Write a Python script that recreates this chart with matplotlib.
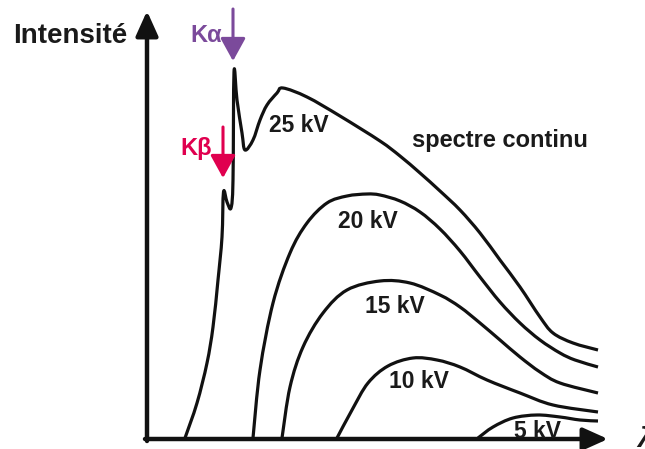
import matplotlib
matplotlib.use("Agg")
import matplotlib.pyplot as plt
import numpy as np
from matplotlib.path import Path
from matplotlib.patches import PathPatch

plt.rcParams['font.family'] = ['Liberation Sans', 'DejaVu Sans']

# Curves (x = wavelength position, y = image-down intensity coordinate)
kv25_x = [185, 197, 207, 213, 218, 222, 223.5, 227, 231, 233, 234, 237, 242, 245, 253, 260, 267, 277, 283, 307, 340, 380, 400, 420, 440, 460, 480, 500, 520, 540, 553, 573, 598]
kv25_y = [438, 403, 363, 327, 280, 237, 192, 202, 208, 180, 72, 100, 133, 150, 140, 120, 105, 93, 88, 97, 116, 141, 156, 173, 191, 210, 233, 260, 287, 317, 333, 343, 350]

kv20_x = [253, 260, 273, 290, 307, 327, 347, 367, 380, 400, 420, 440, 460, 480, 500, 520, 540, 560, 575, 598]
kv20_y = [438, 370, 303, 253, 223, 203, 196, 194, 195, 201, 212, 229, 251, 277, 302, 323, 340, 353, 360, 367]

kv15_x = [282, 290, 303, 323, 347, 380, 410, 440, 460, 480, 500, 520, 540, 560, 598]
kv15_y = [438, 387, 347, 313, 290, 281, 283, 295, 307, 323, 340, 357, 372, 383, 393]

kv10_x = [337, 352, 368, 388, 413, 437, 460, 487, 520, 553, 598]
kv10_y = [438, 410, 383, 366, 358, 360, 367, 380, 393, 405, 412]

kv5_x = [478, 493, 513, 537, 560, 580, 598]
kv5_y = [438, 427, 418, 415, 417, 420, 421]

curve_labels = ["25 kV", "20 kV", "15 kV", "10 kV", "5 kV"]


def smooth_path(xs, ys):
    """Bezier path through the given points (Catmull-Rom tangents)."""
    p = np.column_stack([xs, ys]).astype(float)
    n = len(p)
    verts = [p[0]]
    codes = [Path.MOVETO]
    for i in range(n - 1):
        p0 = p[i - 1] if i > 0 else p[i]
        p1 = p[i]
        p2 = p[i + 1]
        p3 = p[i + 2] if i + 2 < n else p[i + 1]
        c1 = p1 + (p2 - p0) / 6.0
        c2 = p2 - (p3 - p1) / 6.0
        verts += [c1, c2, p2]
        codes += [Path.CURVE4] * 3
    return Path(verts, codes)


fig = plt.figure(figsize=(6.45, 4.49), dpi=100)
ax = fig.add_axes([0, 0, 1, 1])
ax.set_xlim(0, 645)
ax.set_ylim(449, 0)
ax.axis('off')

lw = 2.3
for xs, ys in [(kv25_x, kv25_y), (kv20_x, kv20_y), (kv15_x, kv15_y), (kv10_x, kv10_y), (kv5_x, kv5_y)]:
    ax.add_patch(PathPatch(smooth_path(xs, ys), facecolor='none', edgecolor='#111111',
                           lw=lw, joinstyle='round', capstyle='butt'))

# axes with arrows
ax.annotate('', xy=(147, 11), xytext=(147, 441),
            arrowprops=dict(arrowstyle='-|>,head_length=1.0,head_width=0.45', lw=3.2, color='#111111',
                            shrinkA=0, shrinkB=0, mutation_scale=15))
ax.annotate('', xy=(608, 439), xytext=(145, 439),
            arrowprops=dict(arrowstyle='-|>,head_length=1.0,head_width=0.45', lw=3.2, color='#111111',
                            shrinkA=0, shrinkB=0, mutation_scale=15))

fs = 16.5
label_pos = [(299, 132), (368, 228), (395, 313), (419, 388), (537, 438)]
for lab, (x, y) in zip(curve_labels, label_pos):
    ax.text(x, y, lab, ha='center', va='baseline', fontsize=fs, fontweight='bold', color='#1a1a1a')

ax.text(500, 147, "spectre continu", ha='center', va='baseline', fontsize=17, fontweight='bold', color='#1a1a1a')
ax.text(70, 43, "Intensité", ha='center', va='baseline', fontsize=20, fontweight='bold', color='#1a1a1a')
ax.text(637, 447, "λ", ha='left', va='baseline', fontsize=20, fontweight='bold', fontstyle='italic', color='#1a1a1a')

# K lines
ka_col = '#7B4A9B'
kb_col = '#E0004F'
ax.text(206, 42, "Kα", ha='center', va='baseline', fontsize=17, fontweight='bold', color=ka_col)
ax.annotate('', xy=(233, 61), xytext=(233, 9),
            arrowprops=dict(arrowstyle='-|>,head_length=1.0,head_width=0.55', lw=2.2, color=ka_col,
                            shrinkA=0, shrinkB=0, mutation_scale=14))
ax.text(196, 155, "Kβ", ha='center', va='baseline', fontsize=17, fontweight='bold', color=kb_col)
ax.annotate('', xy=(223, 178), xytext=(223, 127),
            arrowprops=dict(arrowstyle='-|>,head_length=1.0,head_width=0.55', lw=2.2, color=kb_col,
                            shrinkA=0, shrinkB=0, mutation_scale=14))

fig.savefig('out.png', dpi=100)
